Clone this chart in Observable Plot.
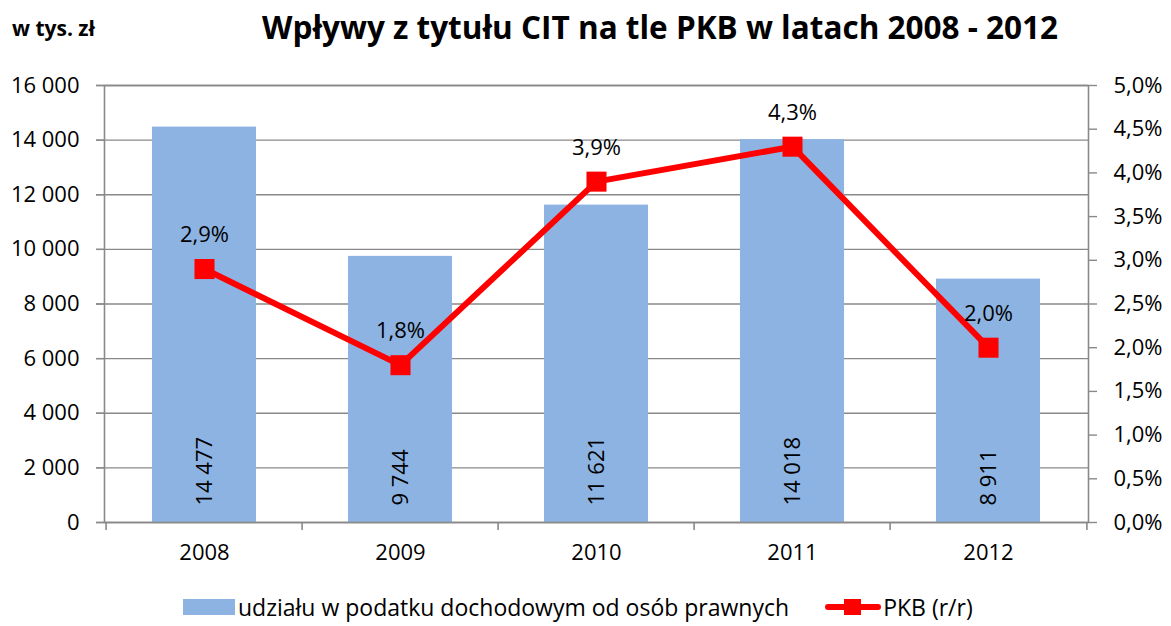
<!DOCTYPE html>
<html><head><meta charset="utf-8">
<script src="https://cdn.jsdelivr.net/npm/d3@7"></script>
<script src="https://cdn.jsdelivr.net/npm/@observablehq/plot@0.6"></script>
<style>
body{margin:0;background:#fff;font-family:"Open Sans",sans-serif;color:#000;}
#wrap{position:relative;width:1171px;height:626px;overflow:hidden;background:#fff;}
#chart{position:absolute;left:0;top:0;}
#title{position:absolute;left:262px;top:5px;font-weight:bold;font-size:31.5px;white-space:nowrap;}
#unit{position:absolute;left:12px;top:14px;font-weight:bold;font-size:21px;white-space:nowrap;}
#legend{position:absolute;left:183px;top:592px;display:flex;align-items:center;font-size:23px;line-height:30px;white-space:nowrap;}
.sw-bar{width:52px;height:16px;background:#8DB3E2;margin-right:3px;}
.sw-line{position:relative;width:56px;height:20px;margin-left:36px;margin-right:2px;}
.sw-line .l{position:absolute;left:0;right:0;top:7px;height:6px;background:#FF0000;border-radius:3px;}
.sw-line .m{position:absolute;left:19px;top:2px;width:17px;height:16px;background:#FF0000;}
</style>
</head><body>
<div id="wrap">
  <div id="chart"></div>
  <div id="unit">w tys. zł</div>
  <div id="title">Wpływy z tytułu CIT na tle PKB w latach 2008 - 2012</div>
  <div id="legend">
    <div class="sw-bar"></div><span>udziału w podatku dochodowym od osób prawnych</span>
    <div class="sw-line"><div class="l"></div><div class="m"></div></div><span>PKB (r/r)</span>
  </div>
</div>
<script>
const years = ["2008", "2009", "2010", "2011", "2012"];
const cit = [14477, 9744, 11621, 14018, 8911];
const pkb = [2.9, 1.8, 3.9, 4.3, 2.0];
const leftTicks = [0, 2000, 4000, 6000, 8000, 10000, 12000, 14000, 16000];
const rightTicks = [0, 0.5, 1, 1.5, 2, 2.5, 3, 3.5, 4, 4.5, 5];

const yMax = 16000, pMax = 5, k = yMax / pMax;
const data = years.map((y, i) => ({year: y, cit: cit[i], pkb: pkb[i]}));
const fmtNum = d => d3.format(",")(d).replace(/,/g, " ");
const fmtPct = d => d.toFixed(1).replace(".", ",") + "%";

const W = 1171, H = 626, mL = 104, mR = 83, mT = 85, mB = 104;
const step = (W - mL - mR) / years.length;
const grid = "#898989";

const chart = Plot.plot({
  width: W, height: H,
  marginLeft: mL, marginRight: mR, marginTop: mT, marginBottom: mB,
  style: {fontFamily: '"Open Sans", sans-serif', fontSize: "22px", color: "#000", background: "transparent", overflow: "visible"},
  x: {type: "band", domain: years, paddingInner: 0.47, paddingOuter: 0.235, axis: null, label: null},
  y: {domain: [0, yMax], axis: null, label: null},
  marks: [
    Plot.ruleY(leftTicks, {y: d => d, stroke: grid, strokeWidth: 1.4, insetLeft: -8}),
    Plot.barY(data, {x: "year", y: "cit", fill: "#8DB3E2"}),
    Plot.frame({stroke: grid, strokeWidth: 1.6}),
    Plot.axisX({tickSize: 8, tickFormat: () => "", label: null, dx: -step / 2, stroke: grid, strokeWidth: 1.6}),
    Plot.axisX({ticks: [years[years.length - 1]], tickSize: 8, tickFormat: () => "", label: null, dx: step / 2, stroke: grid, strokeWidth: 1.6}),
    Plot.axisX({tickSize: 0, tickPadding: 22, fontSize: 22, label: null}),
    Plot.axisY({ticks: leftTicks, tickSize: 8, tickPadding: 17, tickFormat: fmtNum, label: null, stroke: grid, strokeWidth: 1.4, fontSize: 22}),
    Plot.axisY({anchor: "right", ticks: rightTicks.map(d => d * k), tickSize: 8, tickPadding: 17, tickFormat: d => fmtPct(d / k), label: null, stroke: grid, strokeWidth: 1.4, fontSize: 22}),
    Plot.line(data, {x: "year", y: d => d.pkb * k, stroke: "#FF0000", strokeWidth: 6}),
    Plot.dot(data, {x: "year", y: d => d.pkb * k, symbol: "square", r: 11.3, fill: "#FF0000"}),
    Plot.text(data, {x: "year", y: d => d.pkb * k, text: d => fmtPct(d.pkb), dy: -34, fontSize: 22}),
    Plot.text(data, {x: "year", y: 0, text: d => fmtNum(d.cit), rotate: -90, textAnchor: "start", dy: -17, fontSize: 22})
  ]
});
document.getElementById("chart").appendChild(chart);
</script>
</body></html>
